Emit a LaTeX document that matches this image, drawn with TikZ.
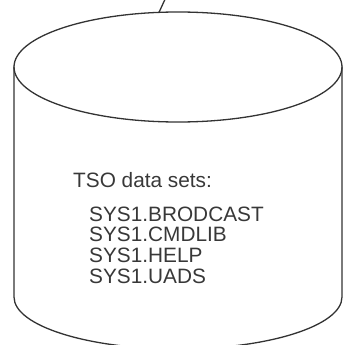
\documentclass[tikz,border=0pt]{standalone}
\usepackage{fontspec}
\setmainfont{Liberation Sans}
\begin{document}
\begin{tikzpicture}[x=1bp, y=1bp, line join=round, line cap=round]

		\tikzset{disk line/.style={draw=black!80, line width=1.3bp},
			label style/.style={text=black!78, inner sep=0pt, anchor=base west,
				font=\fontsize{20.8bp}{24bp}\selectfont}}

		\useasboundingbox (0,0) rectangle (347,345);
		\clip (0,0) rectangle (347,345);
		% disk body
		\draw[disk line] (178,278) ellipse [x radius=164, y radius=55];
		\draw[disk line] (14,278) -- (14,48) arc [start angle=180, end angle=360, x radius=164, y radius=52] -- (342,278);
		% link leaving the top
		\coordinate (rim) at (159,332.6);
		\coordinate (away) at (167,350);
		\draw[disk line] (rim) -- (away);
		% contents
		\node[label style] (title) at (73,158) {TSO data sets:};
		\node[label style] (brod) at (89,124) {SYS1.BRODCAST};
		\node[label style] (cmd) at (89,103.3) {SYS1.CMDLIB};
		\node[label style] (help) at (89,82.6) {SYS1.HELP};
		\node[label style] (uads) at (89,61.9) {SYS1.UADS};
	\end{tikzpicture}
\end{document}
